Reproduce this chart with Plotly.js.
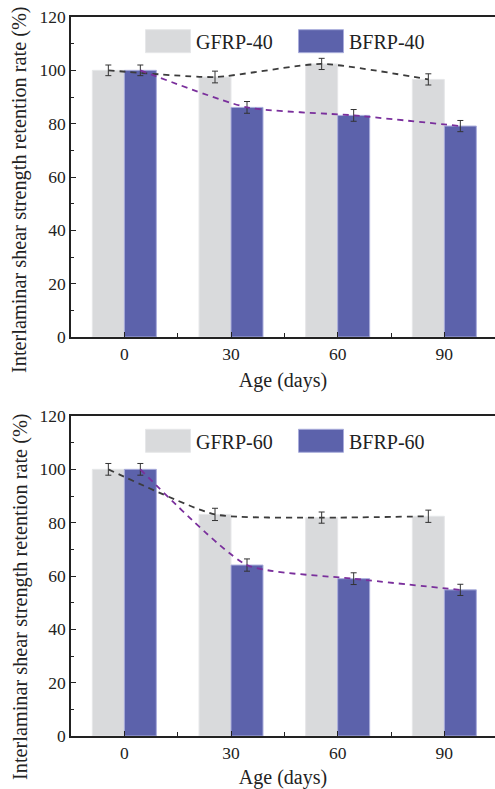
<!DOCTYPE html>
<html>
<head>
<meta charset="utf-8">
<script src="https://cdn.plot.ly/plotly-3.0.1.min.js"></script>
<style>html,body{margin:0;padding:0;background:#fff;}</style>
</head>
<body>
<div id="chart" style="width:495px;height:789px;"></div>
<script>
// ---- data ----
const ages = [0, 30, 60, 90];
const seriesNames40 = ['GFRP-40', 'BFRP-40'];
const seriesNames60 = ['GFRP-60', 'BFRP-60'];
const gfrp40 = [100, 97.5, 102.4, 96.6];
const gfrp40Err = [2.0, 2.2, 2.1, 2.1];
const bfrp40 = [100, 86.1, 83.1, 79.1];
const bfrp40Err = [2.0, 2.2, 2.2, 2.1];
const gfrp60 = [100, 83.1, 81.9, 82.4];
const gfrp60Err = [2.2, 2.3, 2.1, 2.3];
const bfrp60 = [100, 64.1, 59.0, 54.8];
const bfrp60Err = [2.2, 2.3, 2.2, 2.1];
const xTitle = 'Age (days)';
const yTitle = 'Interlaminar shear strength retention rate (%)';

// ---- style ----
const GRAY = '#d9dadc', GRAY_EDGE = '#e6e7e9';
const BLUE = '#5c62ab', BLUE_EDGE = '#a9addb';
const GRAY_LINE = '#3c3c3c', PURPLE_LINE = '#7a2f9c';
const BARGAP = 0.4, STEP = 30;
const HALF = STEP * (1 - BARGAP) / 4; // centre offset of each bar in a pair

function bar(name, y, err, color, edge, xa, ya, lg) {
  return {
    type: 'bar', name: name, x: ages, y: y, xaxis: xa, yaxis: ya, legend: lg,
    marker: {color: color, line: {color: edge, width: 1}},
    error_y: {type: 'data', array: err, visible: true, color: '#333', thickness: 1, width: 3},
    hoverinfo: 'x+y+name'
  };
}
function line(y, sign, color, xa, ya) {
  return {
    type: 'scatter', mode: 'lines', x: ages.map(a => a + sign * HALF), y: y,
    xaxis: xa, yaxis: ya, showlegend: false, hoverinfo: 'skip',
    line: {color: color, width: 1.8, dash: '6px,5px', shape: 'spline', smoothing: 0.55}
  };
}

const data = [
  bar(seriesNames40[0], gfrp40, gfrp40Err, GRAY, GRAY_EDGE, 'x', 'y', 'legend'),
  bar(seriesNames40[1], bfrp40, bfrp40Err, BLUE, BLUE_EDGE, 'x', 'y', 'legend'),
  line(gfrp40, -1, GRAY_LINE, 'x', 'y'),
  line(bfrp40, 1, PURPLE_LINE, 'x', 'y'),
  bar(seriesNames60[0], gfrp60, gfrp60Err, GRAY, GRAY_EDGE, 'x2', 'y2', 'legend2'),
  bar(seriesNames60[1], bfrp60, bfrp60Err, BLUE, BLUE_EDGE, 'x2', 'y2', 'legend2'),
  line(gfrp60, -1, GRAY_LINE, 'x2', 'y2'),
  line(bfrp60, 1, PURPLE_LINE, 'x2', 'y2')
];

const AX = '#222';
function xaxis(anchor) {
  return {
    anchor: anchor, domain: [0, 1], range: [-15, 104.25], tick0: 0, dtick: 30,
    ticks: 'inside', ticklen: 5, tickwidth: 1.3, tickcolor: AX,
    minor: {tick0: 0, dtick: 15, ticks: 'inside', ticklen: 4, tickwidth: 1.3, tickcolor: AX},
    showline: true, linecolor: AX, linewidth: 1.5, mirror: true,
    showgrid: false, zeroline: false,
    title: {text: xTitle, font: {size: 20}, standoff: 10}
  };
}
function yaxis(anchor, domain) {
  return {
    anchor: anchor, domain: domain, range: [0, 120], tick0: 0, dtick: 20,
    ticks: 'inside', ticklen: 5, tickwidth: 1.3, tickcolor: AX,
    minor: {tick0: 0, dtick: 10, ticks: 'inside', ticklen: 3, tickwidth: 1.3, tickcolor: AX},
    showline: true, linecolor: AX, linewidth: 1.5,
    showgrid: false, zeroline: false
  };
}
function legend(y) {
  return {
    orientation: 'h', x: 0.1627, xanchor: 'left', y: y, yanchor: 'top',
    itemwidth: 46, entrywidth: 92, entrywidthmode: 'pixels',
    font: {size: 20, color: '#222'}, bgcolor: 'rgba(0,0,0,0)', borderwidth: 0,
    traceorder: 'normal'
  };
}
function yTitleNote(y) {
  return {
    text: yTitle, textangle: -90, showarrow: false,
    xref: 'paper', yref: 'paper', x: -0.1203, y: y,
    xanchor: 'center', yanchor: 'middle', font: {size: 20.3, color: '#222'}
  };
}

const layout = {
  width: 495, height: 789,
  margin: {l: 71, r: 0, t: 17, b: 53},
  paper_bgcolor: '#fff', plot_bgcolor: '#fff',
  font: {family: '"Liberation Serif", "DejaVu Serif", serif', size: 17.5, color: '#222'},
  barmode: 'group', bargap: BARGAP, bargroupgap: 0,
  showlegend: true,
  xaxis: xaxis('y'), yaxis: yaxis('x', [0.55494, 1]),
  xaxis2: xaxis('y2'), yaxis2: yaxis('x2', [0, 0.44506]),
  legend: legend(0.9935), legend2: legend(0.4377),
  annotations: [yTitleNote(0.7608), yTitleNote(0.1947)]
};

function bigLegendBoxes() {
  document.querySelectorAll('#chart .legendpoints path').forEach(p => {
    p.setAttribute('d', 'M22.5,11.5H-22.5V-11.5H22.5Z');
  });
}
const gd = document.getElementById('chart');
Plotly.newPlot(gd, data, layout, {displayModeBar: false}).then(() => {
  bigLegendBoxes();
  gd.on('plotly_afterplot', bigLegendBoxes);
});
</script>
</body>
</html>
